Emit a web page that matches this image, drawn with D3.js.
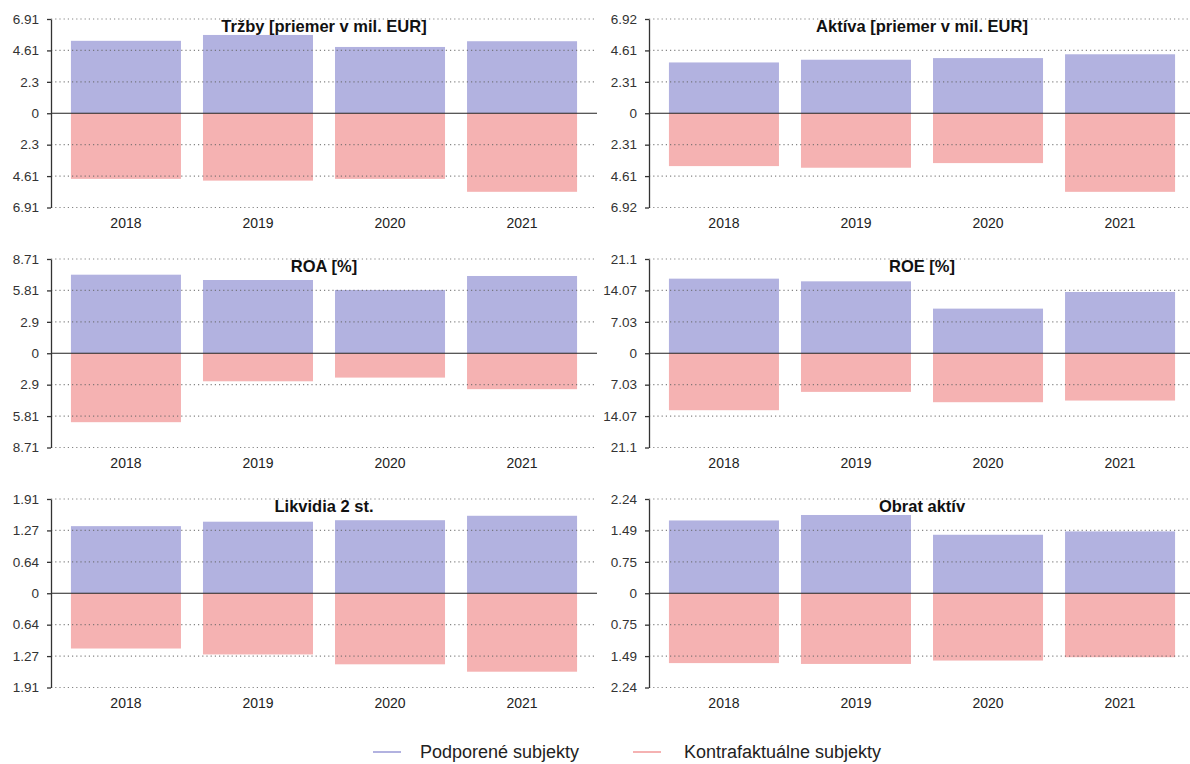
<!DOCTYPE html>
<html>
<head>
<meta charset="utf-8">
<script src="https://cdn.jsdelivr.net/npm/d3@7"></script>
<style>
  html, body { margin: 0; padding: 0; background: #fff; }
  svg { display: block; font-family: "Liberation Sans", Arial, Helvetica, sans-serif; }
</style>
</head>
<body>
<svg id="chart" width="1190" height="764"></svg>
<script>
// ---- data ----
const years = ["2018", "2019", "2020", "2021"];
const titles = ["Tržby [priemer v mil. EUR]", "Aktíva [priemer v mil. EUR]", "ROA [%]", "ROE [%]", "Likvidia 2 st.", "Obrat aktív"];
const axisMax = [6.91, 6.92, 8.71, 21.1, 1.91, 2.24];
const tickLabels = [
  ["6.91", "4.61", "2.3", "0", "2.3", "4.61", "6.91"],
  ["6.92", "4.61", "2.31", "0", "2.31", "4.61", "6.92"],
  ["8.71", "5.81", "2.9", "0", "2.9", "5.81", "8.71"],
  ["21.1", "14.07", "7.03", "0", "7.03", "14.07", "21.1"],
  ["1.91", "1.27", "0.64", "0", "0.64", "1.27", "1.91"],
  ["2.24", "1.49", "0.75", "0", "0.75", "1.49", "2.24"]
];
const supported = [
  [5.31, 5.74, 4.86, 5.28],
  [3.73, 3.93, 4.05, 4.33],
  [7.26, 6.77, 5.85, 7.14],
  [16.70, 16.10, 9.99, 13.72],
  [1.36, 1.45, 1.48, 1.57],
  [1.73, 1.86, 1.39, 1.47]
];
const counterfactual = [
  [4.81, 4.94, 4.81, 5.76],
  [3.88, 4.00, 3.66, 5.77],
  [6.37, 2.59, 2.25, 3.32],
  [12.75, 8.65, 10.96, 10.59],
  [1.12, 1.24, 1.44, 1.59],
  [1.66, 1.68, 1.60, 1.52]
];
const legendLabels = ["Podporené subjekty", "Kontrafaktuálne subjekty"];

// ---- styles ----
const blue = "#b2b2e0";
const pink = "#f5b2b2";
const font = "'Liberation Sans', Arial, Helvetica, sans-serif";

const svg = d3.select("#chart");

const colX = [51, 649];
const panelW = 546;
const rowTop = [19, 259, 499];
const plotH = 188.5;

titles.forEach((title, i) => {
  const col = i % 2, row = Math.floor(i / 2);
  const x0 = colX[col], x1 = x0 + panelW;
  const y0 = rowTop[row], y1 = y0 + plotH;
  const m = axisMax[i];

  const x = d3.scaleBand().domain(years).range([x0, x1]).paddingInner(0.1667).paddingOuter(0.151);
  const y = d3.scaleLinear().domain([-m, m]).range([y1, y0]);
  const tickVals = [m, 2 * m / 3, m / 3, 0, -m / 3, -2 * m / 3, -m];

  const g = svg.append("g");

  // bars
  g.selectAll("rect.sup").data(supported[i]).join("rect")
    .attr("x", (d, j) => x(years[j]))
    .attr("width", x.bandwidth())
    .attr("y", d => y(d))
    .attr("height", d => y(0) - y(d))
    .attr("fill", blue);
  g.selectAll("rect.cf").data(counterfactual[i]).join("rect")
    .attr("x", (d, j) => x(years[j]))
    .attr("width", x.bandwidth())
    .attr("y", y(0))
    .attr("height", d => y(-d) - y(0))
    .attr("fill", pink);

  // dotted grid (drawn above bars)
  g.selectAll("line.grid").data(tickVals.filter(v => v !== 0)).join("line")
    .attr("x1", x0).attr("x2", x1)
    .attr("y1", d => y(d)).attr("y2", d => y(d))
    .attr("stroke", "#666").attr("stroke-opacity", 0.8)
    .attr("stroke-width", 1.1)
    .attr("stroke-dasharray", "1.2,3");

  // zero line
  g.append("line")
    .attr("x1", x0).attr("x2", x1)
    .attr("y1", y(0)).attr("y2", y(0))
    .attr("stroke", "#222").attr("stroke-width", 1.2);

  // y axis
  const yAxis = d3.axisLeft(y).tickValues(tickVals)
    .tickFormat((d, k) => tickLabels[i][k])
    .tickSize(4).tickPadding(8).tickSizeOuter(0);
  const ag = g.append("g").attr("transform", `translate(${x0},0)`).call(yAxis);
  ag.select(".domain").attr("stroke", "#333").attr("stroke-width", 1.3);
  ag.selectAll(".tick line").attr("stroke", "#333").attr("stroke-width", 1.3);
  ag.selectAll(".tick text").attr("font-size", 13.5).attr("font-family", font).attr("fill", "#333");

  // x axis labels
  const xAxis = d3.axisBottom(x).tickSize(0).tickPadding(0);
  const xg = g.append("g").attr("transform", `translate(0,${y1 + 11})`).call(xAxis);
  xg.select(".domain").remove();
  xg.selectAll(".tick text").attr("font-size", 14).attr("font-family", font).attr("fill", "#222");

  // title
  g.append("text")
    .attr("x", (x0 + x1) / 2)
    .attr("y", y0 + 13)
    .attr("text-anchor", "middle")
    .attr("font-size", 16.5)
    .attr("font-weight", "bold")
    .attr("font-family", font)
    .attr("fill", "#111")
    .text(title);
});

// legend
const legend = svg.append("g");
const legItems = [
  { label: legendLabels[0], color: blue, lx: 373, tx: 420 },
  { label: legendLabels[1], color: pink, lx: 633, tx: 684 }
];
legItems.forEach(it => {
  legend.append("line")
    .attr("x1", it.lx).attr("x2", it.lx + 28)
    .attr("y1", 752).attr("y2", 752)
    .attr("stroke", it.color).attr("stroke-width", 2);
  legend.append("text")
    .attr("x", it.tx).attr("y", 758)
    .attr("font-size", 18).attr("font-family", font).attr("fill", "#222")
    .text(it.label);
});
</script>
</body>
</html>
